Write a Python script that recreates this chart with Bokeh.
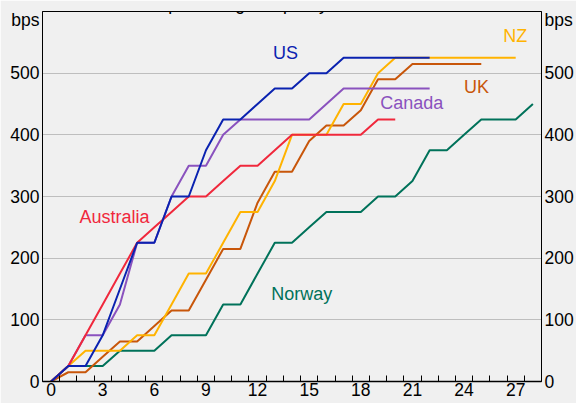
from bokeh.plotting import figure
from bokeh.models import LinearAxis, FixedTicker, Range1d, Label
from bokeh.embed import file_html
from bokeh.resources import INLINE

# ---------------- data (bps, cumulative, month 0 = month before first rise) ----
us_bps = [0, 25, 25, 75, 150, 225, 225, 300, 300, 375, 425, 425, 450, 475, 475,
          500, 500, 525, 525, 525, 525, 525, 525]
canada_bps = [0, 25, 75, 75, 125, 225, 225, 300, 350, 350, 400, 425, 425, 425,
              425, 425, 450, 475, 475, 475, 475, 475, 475]
australia_bps = [0, 25, 75, 125, 175, 225, 250, 275, 300, 300, 325, 350, 350,
                 375, 400, 400, 400, 400, 400, 425, 425]
uk_bps = [0, 15, 15, 40, 65, 65, 90, 115, 115, 165, 215, 215, 290, 340, 340,
          390, 415, 415, 440, 490, 490, 515, 515, 515, 515, 515]
nz_bps = [0, 25, 50, 50, 50, 75, 75, 125, 175, 175, 225, 275, 275, 325, 400,
          400, 400, 450, 450, 500, 525, 525, 525, 525, 525, 525, 525, 525]
norway_bps = [0, 25, 25, 25, 50, 50, 50, 75, 75, 75, 125, 125, 175, 225, 225,
              250, 275, 275, 275, 300, 300, 325, 375, 375, 400, 425, 425, 425, 450]

x_tick_values = [0, 3, 6, 9, 12, 15, 18, 21, 24, 27]
x_minor_ticks = [m + 0.5 for m in range(28)]
y_tick_values = [0, 100, 200, 300, 400, 500]
unit_tick = 587          # where the "bps" unit text sits on both axes
unit_text = "bps"
title_text = "Month preceding first policy rate increase = 0"

FONT = "Liberation Sans"
BG = "#F0F0F0"
TICK_FS = "17.5px"
LAB_FS = "18px"

series = [
    ("Norway", norway_bps, "#00725A"),
    ("UK", uk_bps, "#C8560A"),
    ("NZ", nz_bps, "#FFB300"),
    ("Canada", canada_bps, "#8A52BE"),
    ("Australia", australia_bps, "#F0283C"),
    ("US", us_bps, "#0A22B0"),
]

label_pos = {
    "US": (13.62, 532),
    "NZ": (26.98, 561),
    "UK": (24.72, 477),
    "Canada": (20.96, 451),
    "Australia": (3.69, 266),
    "Norway": (14.57, 142),
}

p = figure(width=576, height=403,
           x_range=Range1d(-0.5, 28.5), y_range=Range1d(0, 600),
           output_backend="svg", toolbar_location=None,
           min_border_left=42, min_border_right=33,
           min_border_top=11, min_border_bottom=22,
           background_fill_color=BG, border_fill_color=BG)
p.outline_line_color = "black"
p.outline_line_width = 1

p.xgrid.visible = False
p.ygrid.ticker = FixedTicker(ticks=y_tick_values)
p.ygrid.grid_line_color = "#BEBEBE"
p.ygrid.grid_line_width = 1

xa = p.xaxis[0]
xa.ticker = FixedTicker(ticks=x_tick_values, minor_ticks=x_minor_ticks)
xa.major_tick_in = 0
xa.major_tick_out = 0
xa.minor_tick_in = 6
xa.minor_tick_out = 0
xa.minor_tick_line_color = "black"
xa.axis_line_color = "black"
xa.axis_line_width = 1.5
xa.major_label_text_font = FONT
xa.major_label_text_font_size = TICK_FS
xa.major_label_text_color = "black"
xa.major_label_standoff = 1


def style_y(ax):
    ax.ticker = FixedTicker(ticks=y_tick_values + [unit_tick])
    ax.major_label_overrides = {unit_tick: unit_text}
    ax.major_tick_in = 0
    ax.major_tick_out = 0
    ax.minor_tick_line_color = None
    ax.axis_line_color = "black"
    ax.axis_line_width = 1
    ax.major_label_text_font = FONT
    ax.major_label_text_font_size = TICK_FS
    ax.major_label_text_color = "black"
    ax.major_label_standoff = 3


style_y(p.yaxis[0])
ra = LinearAxis()
style_y(ra)
p.add_layout(ra, "right")

for name, vals, col in series:
    p.line(list(range(len(vals))), vals, line_color=col, line_width=2)
    lx, ly = label_pos[name]
    p.add_layout(Label(x=lx, y=ly, text=name, text_color=col,
                       text_font=FONT, text_font_size=LAB_FS,
                       text_align="center", text_baseline="middle"))

# title, cut off at the top edge as in the reference
# (screen units are measured from the frame's bottom-left corner)
p.add_layout(Label(x=246.5, y=378, x_units="screen", y_units="screen",
                   text=title_text, text_font=FONT, text_font_size=TICK_FS,
                   text_color="black", text_align="center",
                   text_baseline="alphabetic"))

open("out.html", "w").write(file_html(p, INLINE))
